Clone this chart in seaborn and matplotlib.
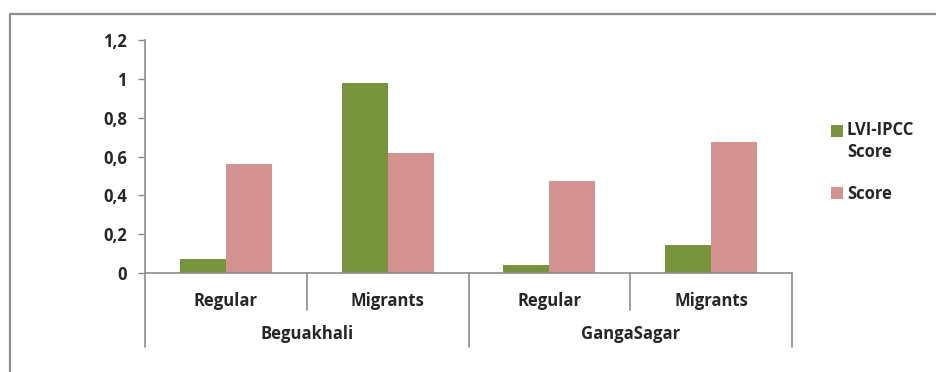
import matplotlib
matplotlib.use("Agg")
import pandas as pd
import seaborn as sns
import matplotlib.pyplot as plt
from matplotlib.lines import Line2D

# data
sites = ["Beguakhali", "GangaSagar"]
groups = ["Regular", "Migrants"]
series = ["LVI-IPCC Score", "Score"]
lvi_ipcc = [0.07, 0.978, 0.04, 0.144]
score = [0.563, 0.618, 0.475, 0.677]
yticks = [0, 0.2, 0.4, 0.6, 0.8, 1.0, 1.2]

GREEN = "#77933C"
PINK = "#D39190"
GRAY = "#8C8C8C"
FS = 12

cats = [f"{s}|{g}" for s in sites for g in groups]
df = pd.DataFrame({
    "cat": cats * 2,
    "value": lvi_ipcc + score,
    "series": [series[0]] * 4 + [series[1]] * 4,
})

sns.set_style("white")
plt.rcParams["font.family"] = ["Open Sans", "DejaVu Sans"]
plt.rcParams["font.weight"] = "bold"

fig = plt.figure(figsize=(9.36, 3.72), dpi=100)
ax = fig.add_axes([145 / 936, 1 - 273 / 372, (792 - 145) / 936, (273 - 40) / 372])

sns.barplot(data=df, x="cat", y="value", hue="series", order=cats, hue_order=series,
            palette=[GREEN, PINK], saturation=1, width=0.57, gap=0, edgecolor="none",
            linewidth=0, ax=ax, legend=True)

ax.set_ylim(0, 1.2)
ax.set_xlim(-0.5, 3.5)
ax.set_yticks(yticks)
ax.set_yticklabels([f"{v:g}".replace(".", ",") for v in yticks], fontsize=FS, fontweight="bold")
ax.set_xticks(range(4))
ax.set_xticklabels(groups * 2, fontsize=FS, fontweight="bold")
ax.tick_params(axis="x", length=0, pad=14)
ax.tick_params(axis="y", length=5, width=1, color=GRAY, pad=8, direction="out", left=True)
ax.set_xlabel("")
ax.set_ylabel("")

for side in ["top", "right"]:
    ax.spines[side].set_visible(False)
for side in ["left", "bottom"]:
    ax.spines[side].set_color(GRAY)
    ax.spines[side].set_linewidth(1.2)

# multi-level category axis separators
trans = ax.get_xaxis_transform()
for x in [-0.5, 1.5, 3.5]:
    ax.add_line(Line2D([x, x], [0, -0.318], transform=trans, color=GRAY, lw=1.2, clip_on=False))
for x in [0.5, 2.5]:
    ax.add_line(Line2D([x, x], [0, -0.159], transform=trans, color=GRAY, lw=1.2, clip_on=False))
for i, s in enumerate(sites):
    ax.text(0.5 + 2 * i, -0.262, s, transform=trans, ha="center", va="center",
            fontsize=FS, fontweight="bold")

handles, _ = ax.get_legend_handles_labels()
leg = ax.legend(handles, ["LVI-IPCC\nScore", "Score"], loc="upper left",
                bbox_to_anchor=(831 / 936, 1 - 121 / 372), bbox_transform=fig.transFigure,
                frameon=False, fontsize=FS, handlelength=0.7, handleheight=0.7,
                handletextpad=0.25, labelspacing=1.4, borderpad=0, borderaxespad=0)
for t in leg.get_texts():
    t.set_fontweight("bold")
    t.set_linespacing(1.3)
# put the first marker next to the first text line, as in the original
h0 = leg.legend_handles[0]
h0.set_y(h0.get_y() + 8)

# outer chart frame (top and left edges visible)
fig.add_artist(Line2D([10 / 936, 10 / 936, 1.0], [0.0, 1 - 14 / 372, 1 - 14 / 372],
                      transform=fig.transFigure, color=GRAY, lw=1.6))

fig.savefig("out.png", dpi=100)
